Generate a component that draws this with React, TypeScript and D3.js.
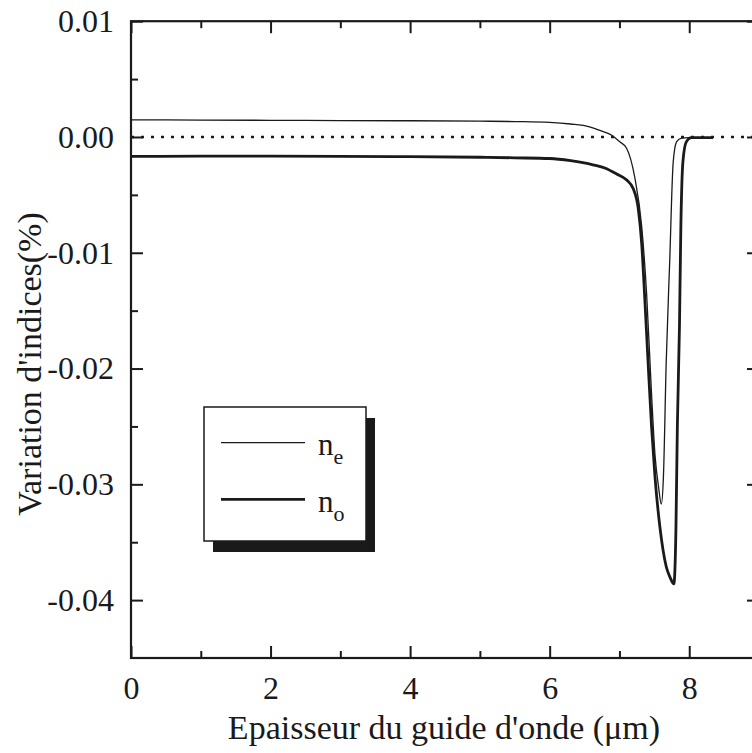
import React, { useEffect, useRef } from 'react';
import * as d3 from 'd3';

// values (x in µm, y in %)
const neX = [0, 1, 2, 3, 4, 5, 5.5, 6, 6.3, 6.57, 6.75, 6.9, 7.0, 7.1, 7.22, 7.32, 7.39, 7.46, 7.51, 7.56, 7.6, 7.63, 7.67, 7.72, 7.77, 7.82, 7.89, 8.0, 8.34];
const neY = [0.00148, 0.00146, 0.00144, 0.00142, 0.0014, 0.00137, 0.00133, 0.00126, 0.00112, 0.00088, 0.0005, 0.0001, -0.0004, -0.00095, -0.0035, -0.0078, -0.0136, -0.0222, -0.0275, -0.0302, -0.0317, -0.0294, -0.0195, -0.0108, -0.0022, -0.0004, -0.0001, -0.00005, -0.00005];

const noX = [0, 1, 2, 3, 4, 5, 5.5, 6, 6.3, 6.62, 6.8, 6.96, 7.1, 7.2, 7.27, 7.32, 7.36, 7.41, 7.46, 7.51, 7.58, 7.67, 7.73, 7.78, 7.81, 7.83, 7.86, 7.88, 7.91, 7.96, 8.03, 8.34];
const noY = [-0.00168, -0.00166, -0.00166, -0.00167, -0.0017, -0.00175, -0.0018, -0.00186, -0.00205, -0.0024, -0.0027, -0.0032, -0.0037, -0.0045, -0.0062, -0.0093, -0.0136, -0.0194, -0.025, -0.0294, -0.0337, -0.0371, -0.0381, -0.0386, -0.0337, -0.025, -0.0164, -0.0078, -0.0021, -0.0004, -0.00005, -0.00005];

const xMajor = [0, 2, 4, 6, 8];
const xMinor = [1, 3, 5, 7];
const yMajor = [0.01, 0, -0.01, -0.02, -0.03, -0.04];
const yMinor = [0.005, -0.005, -0.015, -0.025, -0.035];

const xTitle = "Epaisseur du guide d'onde (\u03bcm)";
const yTitle = "Variation d'indices(%)";

function App() {
  const svgRef = useRef() as React.RefObject<SVGSVGElement>;

  useEffect(() => {
    const W = 752, H = 753;
    const left = 131, right = 759, top = 21.2, bottom = 658;
    const font = 'Liberation Serif, Tinos, DejaVu Serif, serif';
    const ink = '#1a1a1a';

    const svg = d3.select(svgRef.current)
      .attr('width', W)
      .attr('height', H)
      .attr('font-family', font)
      .style('background', '#fff');
    svg.selectAll('*').remove();

    const x = d3.scaleLinear().domain([0, 9]).range([left, right]);
    const y = d3.scaleLinear().domain([-0.045, 0.01]).range([bottom, top]);

    // dotted zero line
    svg.append('line')
      .attr('x1', left).attr('x2', right)
      .attr('y1', y(0)).attr('y2', y(0))
      .attr('stroke', ink)
      .attr('stroke-width', 2.6)
      .attr('stroke-dasharray', '3 7');

    const line = d3.line<[number, number]>()
      .x(d => x(d[0]))
      .y(d => y(d[1]))
      .curve(d3.curveMonotoneX);

    const ne = neX.map((v, i) => [v, neY[i]] as [number, number]);
    const no = noX.map((v, i) => [v, noY[i]] as [number, number]);

    svg.append('path')
      .attr('d', line(ne))
      .attr('fill', 'none')
      .attr('stroke', ink)
      .attr('stroke-width', 1.3);

    svg.append('path')
      .attr('d', line(no))
      .attr('fill', 'none')
      .attr('stroke', ink)
      .attr('stroke-width', 2.8);

    // axes with inward ticks
    const styleAxis = (g: any) => {
      g.attr('font-family', font).attr('font-size', 32);
      g.select('.domain').remove();
      g.selectAll('line').attr('stroke', ink).attr('stroke-width', 2);
      g.selectAll('text').attr('fill', ink);
    };

    svg.append('g')
      .attr('transform', `translate(0,${bottom})`)
      .call(d3.axisBottom(x).tickValues(xMajor).tickSize(-12).tickPadding(18).tickFormat(d3.format('d')))
      .call(styleAxis);
    svg.append('g')
      .attr('transform', `translate(0,${bottom})`)
      .call(d3.axisBottom(x).tickValues(xMinor).tickSize(-7).tickFormat(() => ''))
      .call(styleAxis);
    svg.append('g')
      .attr('transform', `translate(0,${top})`)
      .call(d3.axisTop(x).tickValues(xMajor).tickSize(-12).tickFormat(() => ''))
      .call(styleAxis);
    svg.append('g')
      .attr('transform', `translate(0,${top})`)
      .call(d3.axisTop(x).tickValues(xMinor).tickSize(-7).tickFormat(() => ''))
      .call(styleAxis);

    svg.append('g')
      .attr('transform', `translate(${left},0)`)
      .call(d3.axisLeft(y).tickValues(yMajor).tickSize(-12).tickPadding(17)
        .tickFormat(d => (+d).toFixed(2)))
      .call(styleAxis);
    svg.append('g')
      .attr('transform', `translate(${left},0)`)
      .call(d3.axisLeft(y).tickValues(yMinor).tickSize(-7).tickFormat(() => ''))
      .call(styleAxis);
    svg.append('g')
      .attr('transform', `translate(${right},0)`)
      .call(d3.axisRight(y).tickValues(yMajor).tickSize(-12).tickFormat(() => ''))
      .call(styleAxis);
    svg.append('g')
      .attr('transform', `translate(${right},0)`)
      .call(d3.axisRight(y).tickValues(yMinor).tickSize(-7).tickFormat(() => ''))
      .call(styleAxis);

    // frame
    svg.append('rect')
      .attr('x', left).attr('y', top)
      .attr('width', right - left).attr('height', bottom - top)
      .attr('fill', 'none')
      .attr('stroke', ink)
      .attr('stroke-width', 2.2);

    // titles
    svg.append('text')
      .attr('x', 444).attr('y', 739)
      .attr('text-anchor', 'middle')
      .attr('font-size', 34)
      .attr('fill', ink)
      .text(xTitle);

    svg.append('text')
      .attr('transform', 'translate(41,364) rotate(-90)')
      .attr('text-anchor', 'middle')
      .attr('font-size', 34)
      .attr('fill', ink)
      .text(yTitle);

    // legend with drop shadow
    const lg = svg.append('g');
    lg.append('rect')
      .attr('x', 213).attr('y', 418)
      .attr('width', 162).attr('height', 134)
      .attr('fill', ink);
    lg.append('rect')
      .attr('x', 204).attr('y', 407)
      .attr('width', 162).attr('height', 134)
      .attr('fill', '#fff')
      .attr('stroke', ink)
      .attr('stroke-width', 1.5);

    const items = [
      { sub: 'e', w: 1.3, ly: 442.7 },
      { sub: 'o', w: 2.8, ly: 499.3 },
    ];
    items.forEach(it => {
      lg.append('line')
        .attr('x1', 221).attr('x2', 305)
        .attr('y1', it.ly).attr('y2', it.ly)
        .attr('stroke', ink)
        .attr('stroke-width', it.w);
      const t = lg.append('text')
        .attr('x', 318).attr('y', it.ly + 12.5)
        .attr('font-size', 31)
        .attr('fill', ink);
      t.append('tspan').text('n');
      t.append('tspan')
        .attr('dy', 9)
        .attr('font-size', 22)
        .text(it.sub);
    });
  }, []);

  return (
    <div style={{ position: 'absolute', left: 0, top: 0 }}>
      <svg ref={svgRef}></svg>
    </div>
  );
}

export default App;
